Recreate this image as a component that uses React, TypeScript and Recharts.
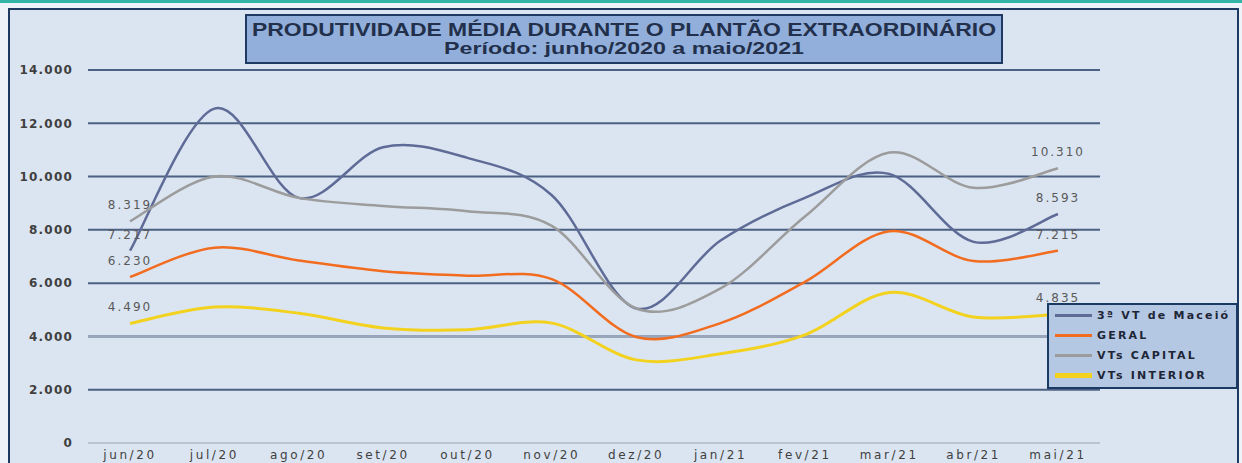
import React from 'react'
import { LineChart, Line, XAxis, YAxis, CartesianGrid, Legend, LabelList, ReferenceLine } from 'recharts'

const months = ['jun/20', 'jul/20', 'ago/20', 'set/20', 'out/20', 'nov/20', 'dez/20', 'jan/21', 'fev/21', 'mar/21', 'abr/21', 'mai/21']
const maceio = [7217, 12550, 9200, 11100, 10700, 9300, 5050, 7600, 9200, 10100, 7550, 8593]
const geral = [6230, 7330, 6850, 6450, 6280, 6150, 3980, 4500, 6050, 7950, 6830, 7215]
const capital = [8319, 10000, 9200, 8900, 8700, 8150, 5050, 5800, 8500, 10900, 9580, 10310]
const interior = [4490, 5100, 4870, 4320, 4250, 4500, 3120, 3350, 4060, 5650, 4730, 4835]
const yTicks = [0, 2000, 4000, 6000, 8000, 10000, 12000, 14000]

const data = months.map((month, i) => ({
  month,
  maceio: maceio[i],
  geral: geral[i],
  capital: capital[i],
  interior: interior[i],
  edge: i === 0 || i === months.length - 1
}))

const fmt = (v: number) => String(v).replace(/\B(?=(\d{3})+(?!\d))/g, '.')

// excel style smoothed line (catmull-rom through the points)
const excelSmooth = (context: any) => {
  let xs: number[] = []
  let ys: number[] = []
  return {
    areaStart() {},
    areaEnd() {},
    lineStart() {
      xs = []
      ys = []
    },
    point(x: number, y: number) {
      xs.push(+x)
      ys.push(+y)
    },
    lineEnd() {
      const n = xs.length
      if (!n) return
      context.moveTo(xs[0], ys[0])
      for (let i = 0; i < n - 1; i++) {
        const a = Math.max(i - 1, 0)
        const d = Math.min(i + 2, n - 1)
        context.bezierCurveTo(
          xs[i] + (xs[i + 1] - xs[a]) / 6,
          ys[i] + (ys[i + 1] - ys[a]) / 6,
          xs[i + 1] - (xs[d] - xs[i]) / 6,
          ys[i + 1] - (ys[d] - ys[i]) / 6,
          xs[i + 1],
          ys[i + 1]
        )
      }
    }
  }
}

const labelStyle = { fill: '#595959', fontSize: 12, fontFamily: 'DejaVu Sans', letterSpacing: 2 }

function LegendBox({ payload }: any) {
  return (
    <div style={{ width: 187, height: 82, background: '#b5c8e3', border: '2px solid #1b3a63' }}>
      {(payload || []).map((p: any) => (
        <div key={p.value} style={{ display: 'flex', alignItems: 'center', height: 20 }}>
          <div style={{ width: 37, height: p.dataKey === 'interior' ? 5 : 3, background: p.color, marginLeft: 6 }} />
          <span
            style={{
              marginLeft: 5,
              fontFamily: 'DejaVu Sans',
              fontWeight: 'bold',
              fontSize: 11,
              letterSpacing: 2.2,
              color: '#1d2536',
              whiteSpace: 'nowrap'
            }}
          >
            {p.value}
          </span>
        </div>
      ))}
    </div>
  )
}

export default function App() {
  return (
    <div style={{ position: 'relative', width: 1242, height: 463, overflow: 'hidden', background: '#eef3f9' }}>
      <style>{'body{margin:0}'}</style>
      <div style={{ position: 'absolute', left: 0, top: 0, width: 1242, height: 3, background: '#33b5a6' }} />
      <div
        style={{
          position: 'absolute',
          left: 8,
          top: 8,
          width: 1227,
          height: 480,
          background: '#dbe5f1',
          border: '2px solid #1f3a60'
        }}
      />
      <div style={{ position: 'absolute', left: 0, top: 0 }}>
        <LineChart width={1242} height={490} data={data} margin={{ top: 70, right: 142, left: 18, bottom: 17 }}>
          <CartesianGrid vertical={false} stroke='#4b6082' strokeWidth={2} />
          <ReferenceLine y={4000} stroke='#9ba8bc' strokeWidth={2} />
          <XAxis
            dataKey='month'
            height={30}
            padding={{ left: 42, right: 42 }}
            axisLine={{ stroke: '#b9c3d1', strokeWidth: 2 }}
            tickLine={false}
            tickSize={6}
            tickMargin={1}
            tick={{ fill: '#404040', fontSize: 12, fontFamily: 'DejaVu Sans', letterSpacing: 2.6 }}
          />
          <YAxis
            width={70}
            domain={[0, 14000]}
            ticks={yTicks}
            tickFormatter={fmt}
            axisLine={false}
            tickLine={false}
            tickSize={6}
            tickMargin={9}
            tick={{ fill: '#3f3f3f', fontSize: 12, fontFamily: 'DejaVu Sans', fontWeight: 'bold', letterSpacing: 1.2 }}
          />
          <Legend
            verticalAlign='middle'
            layout='horizontal'
            align='center'
            content={<LegendBox />}
            wrapperStyle={{ left: 1047, top: 303, width: 191, height: 86 }}
          />
          <Line
            dataKey='maceio'
            name='3ª VT de Maceió'
            type={excelSmooth as any}
            stroke='#5f6b97'
            strokeWidth={2.5}
            dot={false}
            isAnimationActive={false}
          >
            <LabelList dataKey={(d: any) => (d.edge ? d.maceio : null)} position='top' offset={12} formatter={fmt} {...labelStyle} />
          </Line>
          <Line
            dataKey='geral'
            name='GERAL'
            type={excelSmooth as any}
            stroke='#f26c1f'
            strokeWidth={2.5}
            dot={false}
            isAnimationActive={false}
          >
            <LabelList dataKey={(d: any) => (d.edge ? d.geral : null)} position='top' offset={12} formatter={fmt} {...labelStyle} />
          </Line>
          <Line
            dataKey='capital'
            name='VTs CAPITAL'
            type={excelSmooth as any}
            stroke='#9c9c9c'
            strokeWidth={2.5}
            dot={false}
            isAnimationActive={false}
          >
            <LabelList dataKey={(d: any) => (d.edge ? d.capital : null)} position='top' offset={12} formatter={fmt} {...labelStyle} />
          </Line>
          <Line
            dataKey='interior'
            name='VTs INTERIOR'
            type={excelSmooth as any}
            stroke='#f3d21f'
            strokeWidth={3}
            dot={false}
            isAnimationActive={false}
          >
            <LabelList dataKey={(d: any) => (d.edge ? d.interior : null)} position='top' offset={12} formatter={fmt} {...labelStyle} />
          </Line>
        </LineChart>
      </div>
      <svg width={758} height={50} style={{ position: 'absolute', left: 245, top: 14 }}>
        <rect x={1} y={1} width={756} height={48} fill='#92afdb' stroke='#1e3a62' strokeWidth={2} />
        <text
          x={379}
          y={22}
          textAnchor='middle'
          textLength={744}
          lengthAdjust='spacingAndGlyphs'
          fontFamily='Liberation Sans'
          fontWeight='bold'
          fontSize={18}
          fill='#22304c'
        >
          PRODUTIVIDADE MÉDIA DURANTE O PLANTÃO EXTRAORDINÁRIO
        </text>
        <text
          x={379}
          y={40}
          textAnchor='middle'
          textLength={360}
          lengthAdjust='spacingAndGlyphs'
          fontFamily='Liberation Sans'
          fontWeight='bold'
          fontSize={17}
          fill='#22304c'
        >
          Período: junho/2020 a maio/2021
        </text>
      </svg>
    </div>
  )
}
